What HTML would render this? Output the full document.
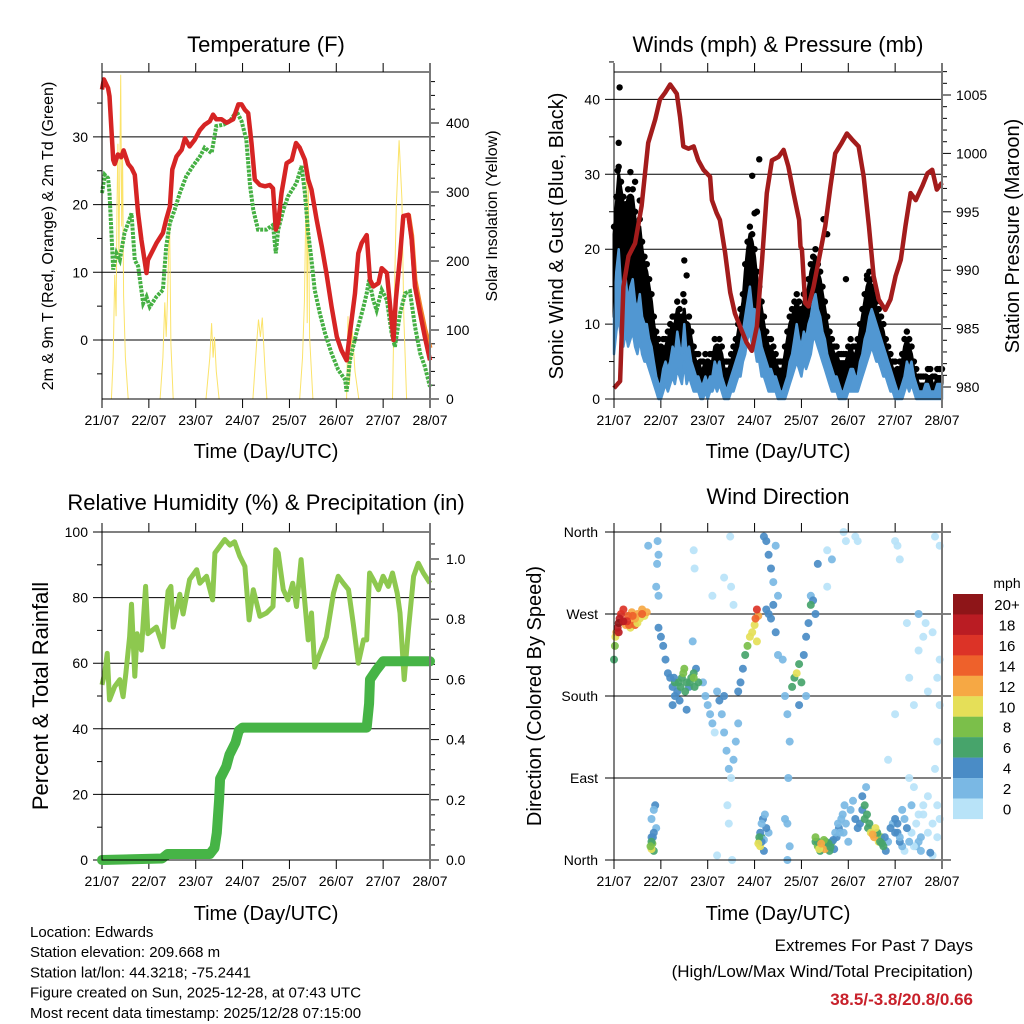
<!DOCTYPE html>
<html><head><meta charset="utf-8"><style>
html,body{margin:0;padding:0;background:#fff;}
svg{display:block;font-family:"Liberation Sans",Arial,sans-serif;}
</style></head><body>
<svg id="fig" width="1024" height="1024" viewBox="0 0 1024 1024" xmlns="http://www.w3.org/2000/svg"></svg>
<script>
// ---------- DATA ----------
const tempDays=[0,0.04,0.13,0.16,0.24,0.27,0.34,0.41,0.46,0.56,0.63,0.70,0.77,0.84,0.95,0.98,1.16,1.30,1.37,1.45,1.50,1.59,1.70,1.77,1.87,1.98,2.09,2.19,2.30,2.37,2.44,2.55,2.66,2.80,2.91,2.98,3.05,3.12,3.19,3.26,3.37,3.48,3.58,3.65,3.71,3.76,3.83,3.94,4.05,4.14,4.22,4.33,4.40,4.47,4.58,4.69,4.79,4.90,5.01,5.11,5.22,5.29,5.40,5.47,5.54,5.65,5.72,5.79,5.90,5.97,6.08,6.15,6.22,6.27,6.36,6.43,6.54,6.61,6.68,6.79,6.89,7.0];
const temp2m=[37,38.5,37.2,36,26.6,26,27.4,27,28,26,25.4,24.4,18.7,14.8,9.9,11.8,14.3,15.8,17.8,19.7,25.2,27.1,28.1,29.8,28.6,29.6,31,31.8,32.3,33.3,32.6,32.6,32.1,32.6,34.8,34.8,34,33.5,29.1,23.7,22.9,22.7,22.9,22.4,16.3,17.3,21.7,26.1,26.6,29.1,28.4,26.6,23.7,22.2,17.8,13.8,9.9,4.9,0.5,-1.5,-3,1,6.9,12.8,14.3,15.5,8.9,7.9,8.4,10.6,9.9,4.9,0,5.9,12.3,18.3,18.5,14.8,7.9,3.9,0.5,-3];
const temp9mDays=[6.54,6.61,6.68,6.79,6.89,7.0];
const temp9m=[18.6,15.4,8.8,4.8,1.6,-1.2];
const dewDays=[0,0.06,0.13,0.16,0.24,0.31,0.38,0.48,0.56,0.63,0.70,0.77,0.88,0.95,1.02,1.16,1.30,1.37,1.45,1.55,1.66,1.80,1.94,2.09,2.19,2.34,2.44,2.59,2.73,2.87,2.98,3.08,3.16,3.23,3.33,3.51,3.65,3.71,3.76,3.87,3.97,4.15,4.26,4.33,4.40,4.47,4.54,4.65,4.76,4.90,5.04,5.19,5.22,5.29,5.43,5.58,5.65,5.70,5.79,5.86,5.97,6.08,6.18,6.25,6.36,6.47,6.57,6.68,6.79,6.89,7.0];
const dew2m=[21.7,24.4,23.9,21.7,10.4,12.8,11.8,15.8,17.3,18.7,11.8,10.9,5.4,6.4,4.9,6.4,7.4,13.8,17.3,19.2,21.7,24.2,25.7,27.1,28.4,27.6,31.6,31.8,32.3,33.8,32.3,29.6,22.7,19.2,16.3,16.3,17,12.8,16.3,19.2,21.2,23.2,25.7,21.7,15.8,11.8,7.4,3.9,1,-2,-4.4,-5.9,-7.6,-3,1,4.9,6.9,8.9,5.9,4.4,7.4,5.9,1,-1,3.9,6.9,7.2,2,-2,-3.9,-6.9];
const solarDays=[0,0.20,0.24,0.27,0.30,0.32,0.34,0.36,0.38,0.40,0.42,0.44,0.46,0.50,0.56,1.24,1.30,1.34,1.37,1.40,1.44,1.47,1.52,2.22,2.30,2.34,2.37,2.40,2.44,2.50,3.22,3.30,3.34,3.38,3.42,3.48,3.52,4.22,4.28,4.32,4.36,4.38,4.40,4.43,4.50,5.22,5.25,5.28,5.34,5.40,5.48,6.20,6.24,6.28,6.34,6.40,6.44,6.50,7.0];
const solarVals=[0,0,60,180,120,280,370,200,330,470,250,350,150,60,0,0,60,140,90,150,270,80,0,0,60,110,60,90,40,0,0,80,115,90,118,40,0,0,60,140,320,110,330,90,0,0,120,20,100,40,0,0,150,280,375,290,120,0,0];

const presDays=[0,0.13,0.20,0.31,0.45,0.59,0.73,0.88,0.98,1.09,1.20,1.34,1.41,1.48,1.59,1.70,1.80,1.91,2.05,2.09,2.19,2.26,2.37,2.48,2.58,2.69,2.83,2.94,3.05,3.16,3.26,3.37,3.51,3.62,3.72,3.83,3.95,3.98,4.01,4.08,4.15,4.26,4.40,4.51,4.62,4.72,4.86,4.97,5.08,5.22,5.33,5.44,5.54,5.65,5.79,5.90,6.01,6.12,6.22,6.33,6.44,6.58,6.69,6.79,6.89,7.0];
const pressure=[979.9,980.5,988.6,991.2,992.3,995.5,1000.9,1002.9,1004.6,1005.2,1005.9,1005.1,1003.1,1000.6,1000.4,1000.6,999.4,998.6,998,996,994.9,994.3,991.5,988.1,986.3,985.2,983.8,983.1,985.2,990.9,996.6,999.4,999.7,1000.3,998.9,996.6,994.3,992,991.8,987.2,986.9,988.6,991.5,993.8,997.2,1000,1000.9,1001.7,1001.2,1000.6,998,993.8,989.5,987.5,986.6,987.5,989.5,990.9,993.8,996.6,996,997.2,998.3,998.6,996.9,997.5];
const windDays=[0,0.05,0.1,0.15,0.2,0.25,0.3,0.35,0.4,0.45,0.5,0.55,0.6,0.65,0.7,0.75,0.8,0.85,0.9,0.95,1.0,1.05,1.1,1.15,1.2,1.25,1.3,1.35,1.4,1.45,1.5,1.55,1.6,1.65,1.7,1.75,1.8,1.85,1.9,1.95,2.0,2.05,2.1,2.15,2.2,2.25,2.3,2.35,2.4,2.45,2.5,2.55,2.6,2.65,2.7,2.75,2.8,2.85,2.9,2.95,3.0,3.05,3.1,3.15,3.2,3.25,3.3,3.35,3.4,3.45,3.5,3.55,3.6,3.65,3.7,3.75,3.8,3.85,3.9,3.95,4.0,4.05,4.1,4.15,4.2,4.25,4.3,4.35,4.4,4.45,4.5,4.55,4.6,4.65,4.7,4.75,4.8,4.85,4.9,4.95,5.0,5.05,5.1,5.15,5.2,5.25,5.3,5.35,5.4,5.45,5.5,5.55,5.6,5.65,5.7,5.75,5.8,5.85,5.9,5.95,6.0,6.05,6.1,6.15,6.2,6.25,6.3,6.35,6.4,6.45,6.5,6.55,6.6,6.65,6.7,6.75,6.8,6.85,6.9,6.95,7.0];
const windAvg=[11,17,20,15,14,16,13,15,16,13,12,14,11,10,10,8,7,5,3,2,2,4,5,4,5,7,6,9,7,6,10,6,7,5,4,3,3,2,2,3,2,3,3,5,4,5,3,2,1,2,3,4,5,6,7,9,11,13,15,12,12,10,9,7,6,5,4,4,3,3,2,1,1,2,3,5,6,8,10,8,7,9,8,10,11,13,14,12,11,9,8,6,5,4,3,3,2,1,1,2,3,4,4,3,3,5,6,8,9,11,12,11,10,9,8,7,6,5,4,3,2,1,1,2,3,5,4,5,3,2,1,1,1,2,2,1,1,1,2,2,2];
const windLow=[6,9,11,8,7,9,7,8,9,7,6,8,6,5,5,4,3,2,1,0,0,1,2,1,2,3,2,4,3,2,5,2,3,2,1,1,1,0,0,1,0,1,1,2,1,2,1,0,0,0,1,1,2,3,3,5,6,8,9,7,7,5,5,3,3,2,1,1,1,1,0,0,0,0,1,2,3,4,5,4,3,5,4,5,6,8,8,7,6,5,4,3,2,1,1,1,0,0,0,0,1,1,1,1,1,2,3,4,5,6,7,6,5,5,4,3,3,2,1,1,0,0,0,0,1,2,1,2,1,0,0,0,0,0,0,0,0,0,0,0,0];
const windGust=[22,26,30,28,26,25,27,26,27,24,22,23,20,18,17,15,13,10,8,7,6,7,7,8,9,10,10,12,11,10,12,9,10,8,6,5,5,4,4,5,4,5,5,7,6,7,6,4,4,4,5,6,7,9,11,13,17,20,22,21,19,16,14,12,10,8,7,7,6,5,4,4,4,6,8,10,11,12,13,12,11,13,13,15,17,18,19,17,16,14,12,10,8,7,6,6,5,5,5,5,6,7,6,6,7,9,11,13,15,16,15,14,12,11,10,9,7,6,5,4,4,3,4,5,7,8,7,6,4,3,2,2,2,2,3,3,2,2,3,3,3];
const gustOutDays=[0.12,0.10,0.08,1.50,1.55,1.48,2.95,3.10,3.00,3.05,4.47,4.55,0.55,0.45,0.35,4.95,5.4];
const gustOutVals=[41.6,34.2,30.5,18.5,16.5,14,29.8,32,24.8,25,24,22,26.5,29,30.3,16,16.5];

const rhDays=[0,0.06,0.11,0.16,0.27,0.38,0.45,0.51,0.59,0.63,0.70,0.75,0.84,0.93,0.98,1.16,1.30,1.41,1.47,1.52,1.66,1.73,1.87,2.02,2.09,2.23,2.36,2.41,2.62,2.73,2.83,2.94,3.05,3.14,3.23,3.37,3.51,3.65,3.71,3.76,3.87,3.97,4.07,4.15,4.25,4.33,4.40,4.47,4.54,4.65,4.79,4.94,5.04,5.15,5.26,5.36,5.47,5.58,5.65,5.71,5.79,5.90,6.00,6.11,6.20,6.30,6.36,6.45,6.54,6.65,6.75,6.86,7.0];
const rhVals=[53.4,57,63,48.8,52.9,55,49.8,57,68,78,56,69,64,83.4,69,71,65,82,83.4,71,81,75,85.5,88.5,84.4,86.5,79.3,93.6,97.7,96,97,92.6,89.5,73.2,82.4,74.3,75.3,77.3,94.6,93.6,82.4,79.3,84.4,77.3,91.6,78.3,67.1,75.3,58.8,63,68,81.4,86.5,84.4,82.4,72.2,60,67.1,67.1,87.5,85.5,82.4,86.5,83.4,87.5,81.4,75.3,55,70.2,86.5,90.5,87.5,84.4];
const precipDays=[0,1.28,1.40,2.30,2.40,2.45,2.50,2.52,2.65,2.72,2.85,2.92,3.0,5.65,5.70,5.72,5.85,6.0,7.0];
const precipVals=[0,0.005,0.02,0.02,0.04,0.09,0.2,0.27,0.31,0.35,0.39,0.43,0.44,0.44,0.52,0.6,0.63,0.66,0.66];

const dirDays=[0.02,0.03,0.05,0.08,0.1,0.12,0.15,0.18,0.2,0.25,0.3,0.35,0.38,0.42,0.45,0.5,0.55,0.6,0.65,0.7,0.0,0.8,0.82,0.85,0.8,0.9,0.88,0.92,0.95,0.93,0.9,0.95,0.73,0.95,1.0,1.05,1.1,1.15,1.2,1.25,1.3,1.35,1.4,1.45,1.5,1.52,1.55,1.6,1.65,1.7,1.75,1.8,1.68,1.7,1.72,1.9,1.95,2.0,2.05,2.1,2.15,2.2,2.25,2.3,2.35,2.4,2.45,2.5,2.55,2.6,2.65,2.35,2.42,2.45,2.2,2.52,2.1,2.5,2.35,2.55,2.48,2.65,2.7,2.75,2.8,2.85,2.9,2.95,3.0,3.02,3.05,3.08,3.05,3.1,3.12,3.15,3.2,3.25,3.18,3.3,3.25,3.3,3.35,3.4,3.45,3.5,3.2,3.25,3.3,3.35,3.4,3.5,3.45,3.6,3.65,3.7,3.75,3.72,3.65,3.7,3.75,3.7,3.8,3.85,3.9,3.95,4.0,4.05,4.1,4.15,4.2,4.25,4.1,3.95,4.2,4.3,4.3,4.35,4.4,4.45,4.5,4.55,4.6,4.65,4.7,4.75,4.8,4.85,4.9,4.95,5.0,5.05,5.1,5.15,5.2,5.25,5.3,5.35,5.4,5.45,5.5,5.55,5.6,5.65,5.7,5.75,5.8,5.85,5.9,5.95,6.0,6.05,6.1,6.15,6.2,4.55,4.55,4.65,4.35,4.9,4.95,5.15,5.2,6.0,6.05,6.1,6.0,5.85,6.3,6.4,6.35,6.45,6.5,6.55,6.6,6.7,6.8,6.9,6.85,6.9,6.95,6.95,6.8,6.9,6.7,6.95,6.85,6.65,6.5,6.4,6.3,6.25,6.5,6.6,6.35,6.45,6.55,6.75];
const dirDeg=[235,245,250,255,260,265,270,262,275,258,268,255,272,262,258,270,265,275,268,272,220,12,18,10,25,35,60,325,335,350,300,290,345,255,245,235,220,205,200,190,195,185,175,200,210,185,165,190,200,205,210,195,240,340,320,195,180,170,160,150,140,185,175,160,140,120,100,90,110,130,150,180,60,40,5,0,290,300,310,280,355,185,195,210,225,235,245,250,258,265,275,268,240,20,15,25,10,35,45,30,275,270,265,280,250,225,355,350,335,320,305,290,345,220,180,160,130,90,45,40,15,0,190,200,205,215,195,225,245,260,280,285,180,170,290,270,20,15,10,18,12,15,10,20,12,25,35,45,30,40,20,55,65,45,35,40,55,60,50,40,30,25,28,20,25,15,10,20,35,40,45,30,20,15,10,300,340,330,325,360,350,355,350,350,345,330,160,110,90,80,60,40,20,10,50,30,5,60,100,130,170,220,250,200,185,345,355,260,230,170,200,260,270,245,30,15,25,8];
const dirSpeed=[8,10,12,18,20,18,16,14,16,12,15,10,13,12,14,12,11,12,10,12,7,10,8,6,4,3,4,2,2,2,2,3,2,4,4,4,4,4,4,5,6,4,4,7,8,6,4,4,6,7,5,6,3,1,1,2,3,2,3,2,1,3,4,3,2,3,2,1,3,2,3,4,1,1,1,1,1,1,1,1,1,4,4,5,6,8,10,11,10,14,16,13,10,8,11,7,4,4,4,3,4,4,4,5,4,3,4,4,5,4,2,2,2,3,3,2,2,2,2,2,2,2,6,7,10,6,6,5,4,5,6,4,3,4,3,4,6,8,6,12,12,9,6,6,4,4,4,3,3,2,2,2,2,4,4,5,4,6,6,6,10,12,9,10,8,6,4,2,4,3,4,4,4,3,1,1,1,2,4,1,1,1,1,1,1,1,1,1,1,1,2,1,3,2,1,1,1,1,1,1,1,1,1,1,1,1,1,1,1,1,1,1,2,1,1,2,2,4,1];
const dirDays2=[0.78,0.8,0.83,0.85,0.8,0.85,3.08,3.1,3.12,3.15,3.2,3.15,3.22,4.3,4.35,4.38,4.42,4.48,4.52,4.58,4.62,4.68,4.72,4.78,4.82,4.88,4.92,5.42,5.48,5.52,5.58,5.62,5.68,5.72,5.78,5.3,5.35,5.38,6.0,6.05,6.1,6.15,6.2,6.25,6.3,6.35,6.4,6.5,6.6,6.7,6.8,6.9,6.95,0.2,0.28,0.32,0.4,0.45,0.5,0.6,0.1,1.38,1.42,1.48,1.55,1.62,1.7,1.72,1.3,1.25,1.28];
const dirDeg2=[15,20,25,30,45,55,18,25,30,20,22,40,50,25,20,12,18,22,20,18,14,22,30,40,30,50,60,35,30,28,35,30,20,18,25,70,45,80,30,40,25,55,45,35,20,30,15,50,60,70,40,25,45,262,262,258,268,265,260,270,250,195,190,205,195,195,200,190,180,170,200];
const dirSpeed2=[8,6,4,4,3,2,10,6,4,4,3,3,2,8,6,10,12,8,7,6,6,4,3,2,2,3,2,6,10,12,10,7,6,6,4,5,6,2,4,4,3,2,3,4,2,1,1,1,1,1,1,1,1,18,16,14,14,12,10,14,18,6,7,8,7,6,8,6,4,4,4];

const xTickLabels=["21/07","22/07","23/07","24/07","25/07","26/07","27/07","28/07"];
const speedBinLabels=["20+","18","16","14","12","10","8","6","4","2","0"];
const speedBinColors=["#8e1518","#ba1c23","#dc3327","#ee612b","#f6a844","#e5df58","#7bbf4a","#47a46b","#4a8cc6","#7ab8e4","#b8e3f8"];
const dirTickLabels=["North","East","South","West","North"];
const dirTickVals=[0,90,180,270,360];

// ---------- HELPERS ----------
const NS="http://www.w3.org/2000/svg";
const svg=document.getElementById('fig');
function mk(tag,attrs,parent,text){const e=document.createElementNS(NS,tag);for(const k in attrs)e.setAttribute(k,attrs[k]);if(text!==undefined)e.textContent=text;(parent||svg).appendChild(e);return e;}
function grp(name){const g=document.createElementNS(NS,'g');


svg.appendChild(g);return g;}
function pts(xs,ys,fx,fy){return xs.map((d,i)=>fx(d).toFixed(1)+','+fy(ys[i]).toFixed(1)).join(' ');}
function band(xs,top,bot,fx,fy){return xs.map((d,i)=>fx(d).toFixed(1)+','+fy(top[i]).toFixed(1)).concat(xs.map((d,i)=>i).reverse().map(i=>fx(xs[i]).toFixed(1)+','+fy(bot[i]).toFixed(1))).join(' ');}

function panelFrame(g,x0,y0,x1,y1){
  for(let d=0;d<=7;d++){const x=x0+d*(x1-x0)/7;
    mk('line',{x1:x,y1:y0-9,x2:x,y2:y0,stroke:'#000','stroke-width':1},g);
    mk('line',{x1:x,y1:y1,x2:x,y2:y1+9,stroke:'#000','stroke-width':1},g);
    const t=mk('text',{x:x,y:y1+26,'font-size':14,'text-anchor':'middle'},g,xTickLabels[d]);
    
    
  }
}
function border(g,x0,y0,x1,y1){
  mk('rect',{x:x0,y:y0,width:x1-x0,height:y1-y0,fill:'none',stroke:'#000','stroke-width':1},g);
  mk('line',{x1:x1,y1:y0-9,x2:x1,y2:y1+9,stroke:'#777','stroke-width':2},g);
}
function hgrid(g,x0,x1,y){mk('line',{x1:x0-9,y1:y,x2:x1,y2:y,stroke:'#000','stroke-width':1},g);}
function label(g,x,y,txt,size,anchor,name,rot,extra){
  const a={x:x,y:y,'font-size':size,'text-anchor':anchor||'middle'};
  if(rot)a.transform='rotate(-90 '+x+' '+y+')';
  if(extra)for(const k in extra)a[k]=extra[k];
  const t=mk('text',a,g,txt);
  
  
  return t;
}

// ---------- PANEL 1: TEMPERATURE ----------
(function(){
  const x0=102,x1=430,y0=72,y1=399;
  const X=d=>x0+d*(x1-x0)/7, Yt=t=>340-t*6.77, Ys=s=>399-s*0.69;
  const g=grp('temperature-panel');
  label(g,266,52,'Temperature (F)',22,'middle','temperature-title');
  [0,10,20,30].forEach(v=>{hgrid(g,x0,x1,Yt(v));label(g,x0-14,Yt(v)+5,String(v),14,'end','y-tick-label');});
  for(let v=-5;v<=35;v+=10)mk('line',{x1:x0-5,y1:Yt(v),x2:x0,y2:Yt(v),stroke:'#000'},g);
  for(let v=0;v<=460;v+=20){const maj=v%100===0;mk('line',{x1:x1,y1:Ys(v),x2:x1+(maj?9:5),y2:Ys(v),stroke:'#000'},g);
    if(maj)label(g,x1+16,Ys(v)+5,String(v),14,'start','y2-tick-label');}
  panelFrame(g,x0,y0,x1,y1);
  const s=mk('polyline',{points:pts(solarDays,solarVals,X,Ys),fill:'none',stroke:'#fbe36a','stroke-width':1},g);
  
  
  const d=mk('polyline',{points:pts(dewDays,dew2m,X,Yt),fill:'none',stroke:'#45b043','stroke-width':4,'stroke-dasharray':'3,1.2'},g);
  
  
  const o=mk('polyline',{points:pts(temp9mDays,temp9m,X,Yt),fill:'none',stroke:'#f3812b','stroke-width':5,'stroke-linejoin':'round'},g);
  
  
  const r=mk('polyline',{points:pts(tempDays,temp2m,X,Yt),fill:'none',stroke:'#d62424','stroke-width':4.5,'stroke-linejoin':'round'},g);
  
  
  border(g,x0,y0,x1,y1);
  label(g,53,236,'2m & 9m T (Red, Orange) & 2m Td (Green)',16,'middle','y-axis-title',true);
  label(g,497,216,'Solar Insolation (Yellow)',16,'middle','y2-axis-title',true);
  label(g,266,458,'Time (Day/UTC)',20,'middle','x-axis-title');
})();

// ---------- PANEL 2: WINDS ----------
(function(){
  const x0=614,x1=942,y0=72,y1=399;
  const X=d=>x0+d*(x1-x0)/7, Yw=w=>399-w*7.49, Yp=p=>387-(p-980)*11.68;
  const g=grp('winds-panel');
  label(g,778,52,'Winds (mph) & Pressure (mb)',22,'middle','winds-title');
  [0,10,20,30,40].forEach(v=>{hgrid(g,x0,x1,Yw(v));label(g,x0-14,Yw(v)+5,String(v),14,'end','y-tick-label');});
  for(let v=5;v<=45;v+=10)mk('line',{x1:x0-5,y1:Yw(v),x2:x0,y2:Yw(v),stroke:'#000'},g);
  for(let p=980;p<=1007;p++){const maj=p%5===0;mk('line',{x1:x1,y1:Yp(p),x2:x1+(maj?9:5),y2:Yp(p),stroke:'#000'},g);
    if(maj)label(g,x1+14,Yp(p)+5,String(p),14,'start','y2-tick-label');}
  panelFrame(g,x0,y0,x1,y1);
  const ge=mk('polygon',{points:band(windDays,windGust,windAvg,X,Yw),fill:'#000',stroke:'#000','stroke-width':3,'stroke-linejoin':'round'},g);
  
  
  windDays.forEach((d,i)=>{const c=mk('circle',{cx:X(d),cy:Yw(windGust[i]+1),r:3.2,fill:'#000'},g);
    
    });
  gustOutDays.forEach((d,i)=>{const c=mk('circle',{cx:X(d),cy:Yw(gustOutVals[i]),r:3.2,fill:'#000'},g);
    
    });
  const b=mk('polygon',{points:band(windDays,windAvg,windLow,X,Yw),fill:'#5197d2',stroke:'#5197d2','stroke-width':2.5,'stroke-linejoin':'round'},g);
  
  
  const p=mk('polyline',{points:pts(presDays,pressure,X,Yp),fill:'none',stroke:'#a31c1c','stroke-width':4.5,'stroke-linejoin':'round'},g);
  
  
  border(g,x0,y0,x1,y1);
  label(g,563,236,'Sonic Wind & Gust (Blue, Black)',20,'middle','y-axis-title',true);
  label(g,1019,236,'Station Pressure (Maroon)',20,'middle','y2-axis-title',true);
  label(g,778,458,'Time (Day/UTC)',20,'middle','x-axis-title');
})();

// ---------- PANEL 3: RH & PRECIP ----------
(function(){
  const x0=102,x1=430,y0=532,y1=860;
  const X=d=>x0+d*(x1-x0)/7, Yr=r=>860-r*3.28, Yq=q=>860-q*301;
  const g=grp('humidity-panel');
  label(g,266,510,'Relative Humidity (%) & Precipitation (in)',22,'middle','humidity-title');
  [0,20,40,60,80,100].forEach(v=>{hgrid(g,x0,x1,Yr(v));label(g,x0-14,Yr(v)+5,String(v),14,'end','y-tick-label');});
  for(let v=10;v<=90;v+=20)mk('line',{x1:x0-5,y1:Yr(v),x2:x0,y2:Yr(v),stroke:'#000'},g);
  for(let q=0;q<=10;q++){const maj=q%2===0;const v=q/10;
    for(let m=0;m<2;m++){const vv=q*0.1+m*0.05;if(vv>1.09)continue;mk('line',{x1:x1,y1:Yq(vv),x2:x1+(m===0&&maj?9:5),y2:Yq(vv),stroke:'#000'},g);}
    if(maj)label(g,x1+16,Yq(v)+5,v.toFixed(1),14,'start','y2-tick-label');}
  panelFrame(g,x0,y0,x1,y1);
  const h=mk('polyline',{points:pts(rhDays,rhVals,X,Yr),fill:'none',stroke:'#8dc84f','stroke-width':5,'stroke-linejoin':'round'},g);
  
  
  const q=mk('polyline',{points:pts(precipDays,precipVals,X,Yq),fill:'none',stroke:'#46b446','stroke-width':10,'stroke-linejoin':'round','stroke-linecap':'round'},g);
  
  
  border(g,x0,y0,x1,y1);
  label(g,48,696,'Percent & Total Rainfall',22,'middle','y-axis-title',true);
  label(g,266,920,'Time (Day/UTC)',20,'middle','x-axis-title');
})();

// ---------- PANEL 4: WIND DIRECTION ----------
(function(){
  const x0=614,x1=942,y0=532,y1=860;
  const X=d=>x0+d*(x1-x0)/7, Yd=v=>860-v*0.911;
  const g=grp('wind-direction-panel');
  label(g,778,504,'Wind Direction',22,'middle','wind-direction-title');
  dirTickVals.forEach((v,i)=>{mk('line',{x1:x0-9,y1:Yd(v),x2:x1+9,y2:Yd(v),stroke:'#000'},g);
    label(g,x0-16,Yd(v)+5,dirTickLabels[i],14,'end','y-tick-label');});
  panelFrame(g,x0,y0,x1,y1);
  function colorFor(s){let b=Math.min(10,Math.floor(s/2));return speedBinColors[10-b];}
  function drawSet(ds,dg,sp){
    const order=ds.map((d,i)=>i).sort((a,b)=>sp[a]-sp[b]);
    order.forEach(i=>{const c=mk('circle',{cx:X(ds[i]).toFixed(1),cy:Yd(dg[i]).toFixed(1),r:4,fill:colorFor(sp[i]),'fill-opacity':0.92},g);
      
      });
  }
  drawSet(dirDays,dirDeg,dirSpeed);
  drawSet(dirDays2,dirDeg2,dirSpeed2);
  border(g,x0,y0,x1,y1);
  label(g,541,696,'Direction (Colored By Speed)',20,'middle','y-axis-title',true);
  label(g,778,920,'Time (Day/UTC)',20,'middle','x-axis-title');
  const lg=grp('speed-colorbar');
  label(lg,1007,588,'mph',14,'middle','colorbar-title');
  speedBinLabels.forEach((t,i)=>{const y=594+i*20.45;
    const r=mk('rect',{x:953,y:y,width:30,height:20.6,fill:speedBinColors[i]},lg);
    
    
    label(lg,1007,y+16,t,15,'middle','colorbar-label');});
})();

// ---------- FOOTER TEXT ----------
(function(){
  const g=grp('station-info');
  const lines=["Location: Edwards","Station elevation: 209.668 m","Station lat/lon: 44.3218; -75.2441","Figure created on Sun, 2025-12-28, at 07:43 UTC","Most recent data timestamp: 2025/12/28 07:15:00"];
  lines.forEach((t,i)=>label(g,30,937+i*20.2,t,15,'start','station-info-line'));
  const e=grp('extremes-info');
  label(e,973,951,'Extremes For Past 7 Days',17,'end','extremes-title');
  label(e,973,977,'(High/Low/Max Wind/Total Precipitation)',17,'end','extremes-subtitle');
  label(e,973,1005,'38.5/-3.8/20.8/0.66',17,'end','extremes-values',false,{fill:'#c8202a','font-weight':'bold'});
})();
</script>
</body></html>
